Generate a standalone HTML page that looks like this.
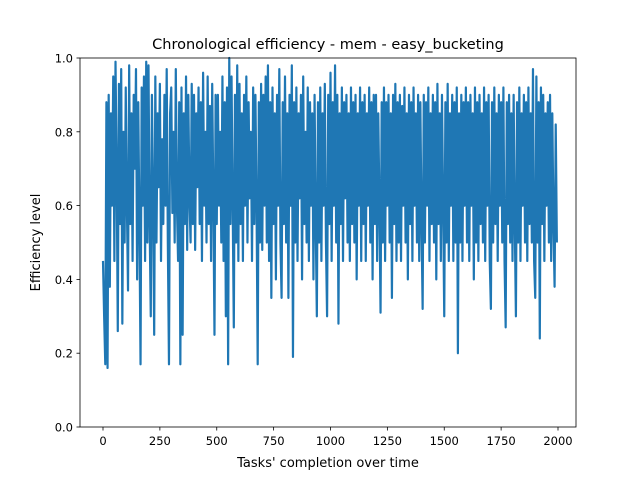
<!DOCTYPE html>
<html><head><meta charset="utf-8"><style>
body{margin:0;background:#fff;}
svg text{font-family:"DejaVu Sans","Liberation Sans",sans-serif;fill:#000;}
</style></head><body>
<svg id="chart" width="640" height="480" viewBox="0 0 640 480" xmlns="http://www.w3.org/2000/svg">
<rect width="640" height="480" fill="#fff"/>
<g id="plot"></g>
<rect x="80" y="58" width="496" height="369" fill="none" stroke="#000" stroke-width="0.8"/>
<text x="328" y="49" text-anchor="middle" font-size="14.5">Chronological efficiency - mem - easy_bucketing</text>
<text x="328" y="467" text-anchor="middle" font-size="13">Tasks' completion over time</text>
<text transform="translate(40,242.5) rotate(-90)" text-anchor="middle" font-size="13">Efficiency level</text>
<g id="axes"></g>
</svg>
<script>
const xTicks=[0,250,500,750,1000,1250,1500,1750,2000];
const yTicks=[0.0,0.2,0.4,0.6,0.8,1.0];
const yTickLabels=["0.0","0.2","0.4","0.6","0.8","1.0"];
const step=5;
const efficiency=[
0.45,0.3,0.17,0.88,0.16,0.9,0.38,0.85,0.6,0.95,0.45,0.99,0.7,0.26,0.93,0.55,0.97,0.28,0.8,0.5,
0.92,0.6,0.37,0.98,0.55,0.85,0.45,0.9,0.7,0.97,0.4,0.88,0.55,0.17,0.92,0.6,0.95,0.45,0.99,0.5,
0.98,0.55,0.3,0.9,0.62,0.25,0.95,0.5,0.85,0.65,0.93,0.45,0.78,0.55,0.9,0.6,0.97,0.5,0.17,0.85,
0.92,0.58,0.8,0.5,0.97,0.6,0.45,0.88,0.17,0.92,0.25,0.85,0.55,0.95,0.48,0.9,0.62,0.5,0.93,0.55,
0.9,0.48,0.85,0.65,0.92,0.55,0.88,0.45,0.96,0.6,0.8,0.5,0.95,0.55,0.87,0.45,0.93,0.62,0.25,0.9,
0.55,0.9,0.6,0.8,0.5,0.95,0.45,0.88,0.3,0.92,0.17,1.0,0.55,0.95,0.6,0.27,0.9,0.5,0.98,0.45,
0.93,0.55,0.85,0.45,0.9,0.6,0.95,0.5,0.88,0.62,0.8,0.45,0.92,0.55,0.9,0.6,0.17,0.88,0.5,0.93,
0.48,0.9,0.6,0.95,0.5,0.98,0.45,0.88,0.35,0.92,0.55,0.85,0.4,0.9,0.6,0.97,0.5,0.35,0.88,0.55,
0.95,0.5,0.85,0.35,0.9,0.6,0.98,0.19,0.88,0.5,0.92,0.45,0.85,0.62,0.9,0.4,0.95,0.55,0.8,0.5,
0.92,0.45,0.88,0.6,0.85,0.4,0.9,0.55,0.3,0.88,0.5,0.92,0.45,0.85,0.6,0.93,0.5,0.3,0.9,0.55,
0.96,0.45,0.88,0.6,0.98,0.5,0.9,0.28,0.85,0.55,0.92,0.45,0.88,0.62,0.9,0.5,0.85,0.45,0.92,0.55,
0.88,0.5,0.9,0.4,0.85,0.6,0.92,0.45,0.88,0.55,0.9,0.45,0.85,0.6,0.92,0.5,0.88,0.4,0.9,0.55,
0.9,0.45,0.85,0.6,0.31,0.88,0.5,0.92,0.45,0.88,0.6,0.9,0.5,0.85,0.35,0.9,0.55,0.93,0.45,0.88,
0.5,0.9,0.45,0.87,0.6,0.92,0.5,0.85,0.4,0.9,0.55,0.88,0.45,0.92,0.6,0.85,0.5,0.9,0.45,0.88,
0.55,0.32,0.9,0.5,0.88,0.6,0.92,0.45,0.85,0.55,0.9,0.5,0.88,0.4,0.93,0.55,0.85,0.45,0.9,0.6,
0.3,0.88,0.5,0.93,0.45,0.85,0.6,0.9,0.45,0.88,0.5,0.92,0.2,0.85,0.5,0.9,0.45,0.88,0.6,0.92,
0.5,0.88,0.45,0.9,0.6,0.85,0.4,0.92,0.5,0.88,0.45,0.9,0.55,0.85,0.5,0.92,0.45,0.88,0.6,0.9,
0.45,0.32,0.88,0.5,0.92,0.55,0.85,0.45,0.9,0.6,0.88,0.5,0.92,0.45,0.27,0.88,0.55,0.9,0.5,0.85,
0.45,0.9,0.55,0.3,0.88,0.5,0.92,0.45,0.85,0.6,0.9,0.5,0.88,0.45,0.92,0.55,0.85,0.5,0.97,0.45,
0.35,0.95,0.5,0.88,0.24,0.92,0.55,0.9,0.45,0.85,0.6,0.88,0.5,0.9,0.45,0.85,0.55,0.38,0.82,0.5];
const NS="http://www.w3.org/2000/svg";
function xs(v){return 103+v*(455/2000);}
function ys(v){return 427-v*369;}
const axes=document.getElementById('axes');
xTicks.forEach(t=>{
 const l=document.createElementNS(NS,'line');
 
 
 l.setAttribute('x1',xs(t));l.setAttribute('x2',xs(t));l.setAttribute('y1',427);l.setAttribute('y2',430.5);l.setAttribute('stroke','#000');l.setAttribute('stroke-width','0.8');
 axes.appendChild(l);
 const tx=document.createElementNS(NS,'text');
 
 
 tx.setAttribute('x',xs(t));tx.setAttribute('y',445);tx.setAttribute('text-anchor','middle');tx.setAttribute('font-size','11.5');
 tx.textContent=t;axes.appendChild(tx);
});
yTicks.forEach((t,i)=>{
 const l=document.createElementNS(NS,'line');
 
 
 l.setAttribute('x1',76.5);l.setAttribute('x2',80);l.setAttribute('y1',ys(t));l.setAttribute('y2',ys(t));l.setAttribute('stroke','#000');l.setAttribute('stroke-width','0.8');
 axes.appendChild(l);
 const tx=document.createElementNS(NS,'text');
 
 
 tx.setAttribute('x',73);tx.setAttribute('y',ys(t)+4.5);tx.setAttribute('text-anchor','end');tx.setAttribute('font-size','11.5');
 tx.textContent=yTickLabels[i];axes.appendChild(tx);
});
const p=document.createElementNS(NS,'polyline');


p.setAttribute('points',efficiency.map((v,i)=>xs(i*step)+','+ys(v)).join(' '));
p.setAttribute('fill','none');p.setAttribute('stroke','#1f77b4');p.setAttribute('stroke-width','2.2');p.setAttribute('stroke-linejoin','round');
document.getElementById('plot').appendChild(p);
</script>
</body></html>
